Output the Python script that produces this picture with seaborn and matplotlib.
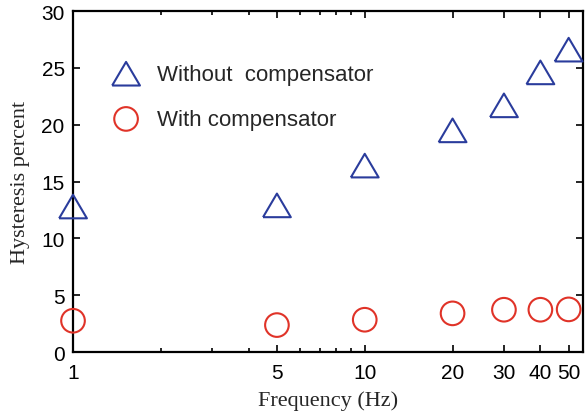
import matplotlib
matplotlib.use("Agg")
import matplotlib.pyplot as plt
import seaborn as sns
import pandas as pd
from matplotlib.ticker import FixedLocator, FixedFormatter, LogLocator, NullFormatter

freq = [1, 5, 10, 20, 30, 40, 50]
without_comp = [12.8, 12.9, 16.4, 19.5, 21.7, 24.6, 26.6]
with_comp = [2.75, 2.37, 2.84, 3.4, 3.72, 3.72, 3.75]
xticks = [1, 5, 10, 20, 30, 40, 50]
yticks = [0, 5, 10, 15, 20, 25, 30]

blue = "#2a3c9c"
red = "#e03328"

sns.set_style("ticks")
plt.rcParams["font.family"] = ["Liberation Sans", "DejaVu Sans"]

fig = plt.figure(figsize=(5.86, 4.14), dpi=100)
ax = fig.add_axes([0.1246, 0.1473, 0.8703, 0.8237])

df = pd.DataFrame({"f": freq, "a": without_comp, "b": with_comp})
tri = [(-1, -0.85), (1, -0.85), (0, 0.85), (-1, -0.85)]
sns.scatterplot(data=df, x="f", y="a", ax=ax, marker=tri, s=20**2,
                facecolor="none", edgecolor=blue, linewidth=1.5,
                label="Without  compensator", clip_on=False, zorder=5)
sns.scatterplot(data=df, x="f", y="b", ax=ax, marker="o", s=17**2,
                facecolor="none", edgecolor=red, linewidth=1.5,
                label="With compensator", clip_on=False, zorder=5)

ax.set_xscale("log")
ax.set_xlim(1, 56)
ax.set_ylim(0, 30)
ax.xaxis.set_major_locator(FixedLocator(xticks))
ax.xaxis.set_major_formatter(FixedFormatter([str(t) for t in xticks]))
ax.xaxis.set_minor_locator(LogLocator(base=10, subs=range(1, 10)))
ax.xaxis.set_minor_formatter(NullFormatter())
ax.set_yticks(yticks)

ax.tick_params(which="both", direction="in", top=True, right=True,
               labelsize=15, width=1.2, colors="black")
ax.tick_params(which="major", length=5)
ax.tick_params(axis="x", which="major", pad=8)
ax.tick_params(axis="y", which="major", pad=6)
ax.tick_params(which="minor", length=3)
for s in ax.spines.values():
    s.set_linewidth(1.6)
    s.set_color("black")

ax.set_xlabel("Frequency (Hz)", family="Liberation Serif", fontsize=16, labelpad=6)
ax.set_ylabel("Hysteresis percent", family="Liberation Serif", fontsize=16, labelpad=8)

ax.legend(loc="upper left", bbox_to_anchor=(0.043, 0.872), frameon=False,
          fontsize=16, labelspacing=1.09, handletextpad=0.40, borderaxespad=0)

fig.savefig("out.png", dpi=100)
